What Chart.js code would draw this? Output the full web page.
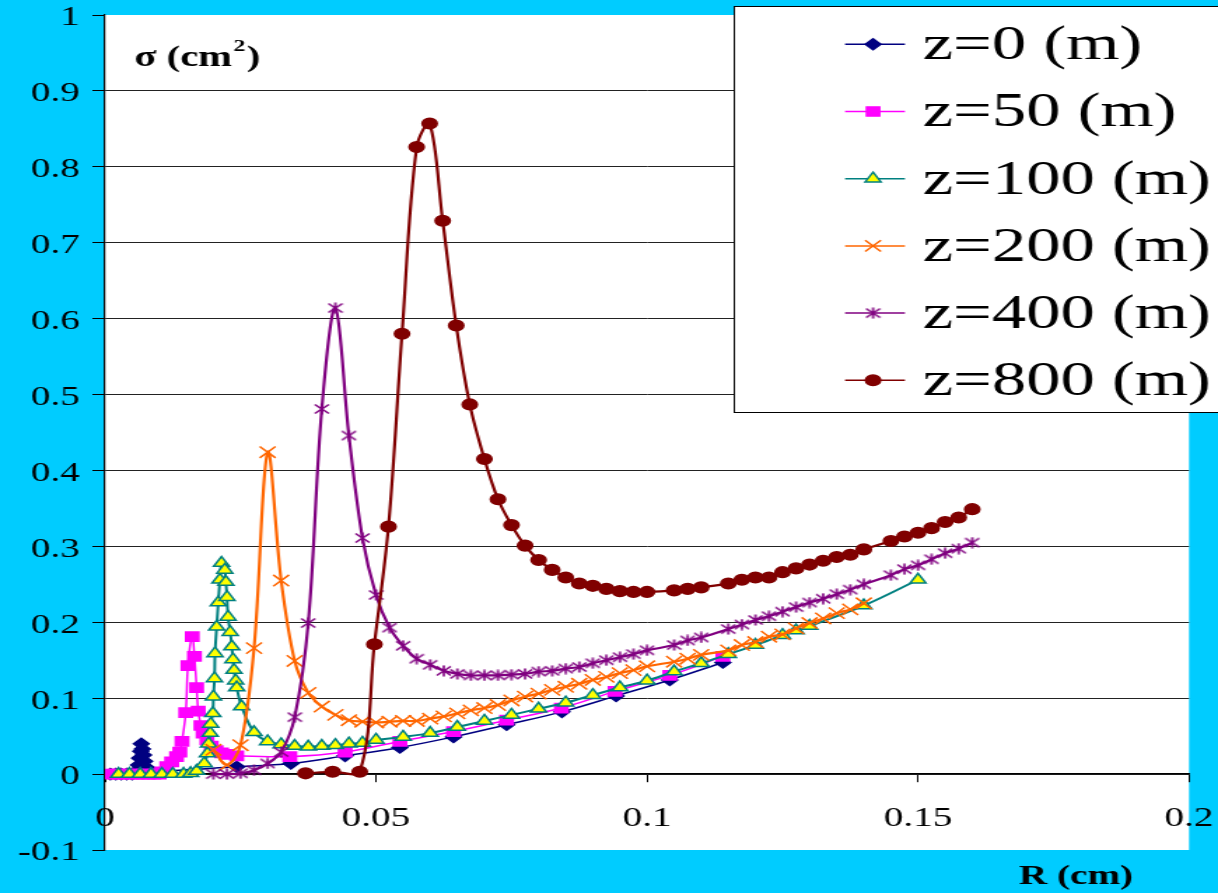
<!DOCTYPE html>
<html>
<head>
<meta charset="utf-8">
<script src="https://cdn.jsdelivr.net/npm/chart.js@4.4.1/dist/chart.umd.min.js"></script>
<style>
  html, body { margin: 0; padding: 0; background: #00CCFF; overflow: hidden; }
</style>
</head>
<body>
<!-- drawn at 870 wide and stretched sideways to 1218, like the reference -->
<canvas id="c" width="870" height="893" style="display:block;width:1218px;height:893px"></canvas>
<script>
// ---- data: R (cm) and sigma (cm^2) per depth ----
const seriesLabels = ['z=0 (m)', 'z=50 (m)', 'z=100 (m)', 'z=200 (m)', 'z=400 (m)', 'z=800 (m)'];

const r0 = [0.001, 0.002, 0.003, 0.004, 0.005, 0.0058, 0.0062, 0.0064, 0.0066, 0.0067,
  0.0069, 0.0071, 0.0073, 0.0076, 0.0082, 0.0243, 0.0343, 0.0443, 0.0544, 0.0643,
  0.0741, 0.0843, 0.0943, 0.1042, 0.114];
const s0 = [0, 0, 0, 0, 0, 0.004, 0.012, 0.021, 0.030, 0.040,
  0.033, 0.025, 0.017, 0.009, 0.004, 0.0096, 0.014, 0.024, 0.035, 0.049,
  0.065, 0.082, 0.103, 0.124, 0.147];

const r50 = [0.001, 0.002, 0.003, 0.004, 0.005, 0.006, 0.007, 0.008, 0.009, 0.01,
  0.0105, 0.0114, 0.0123, 0.0132, 0.0138, 0.0142, 0.0149, 0.0153, 0.0161, 0.0165,
  0.0169, 0.0172, 0.0177, 0.0181, 0.0188, 0.0196, 0.0205, 0.0215, 0.0224, 0.0243,
  0.0341, 0.0443, 0.0544, 0.0643, 0.0741, 0.0842, 0.0941, 0.1042, 0.114];
const s50 = [0, 0, 0, 0, 0, 0, 0, 0, 0, 0,
  0.003, 0.01, 0.016, 0.023, 0.029, 0.043, 0.081, 0.143, 0.181, 0.155,
  0.114, 0.083, 0.064, 0.054, 0.045, 0.037, 0.031, 0.028, 0.026, 0.024,
  0.023, 0.029, 0.043, 0.056, 0.071, 0.087, 0.109, 0.130, 0.155];

const r100 = [0.0025, 0.0045, 0.0065, 0.0085, 0.0105, 0.0125, 0.0145, 0.0158, 0.0169, 0.0183,
  0.0189, 0.0191, 0.0194, 0.0195, 0.0199, 0.02, 0.0202, 0.0203, 0.0206, 0.0209,
  0.0212, 0.0215, 0.0221, 0.0223, 0.0225, 0.0227, 0.0231, 0.0234, 0.0236, 0.0238,
  0.0241, 0.0243, 0.0252, 0.0275, 0.03, 0.0325, 0.035, 0.0375, 0.04, 0.0425,
  0.045, 0.0475, 0.05, 0.055, 0.06, 0.065, 0.07, 0.075, 0.08, 0.085,
  0.09, 0.095, 0.1, 0.105, 0.11, 0.115, 0.12, 0.125, 0.1275, 0.13,
  0.14, 0.15];
const s100 = [0, 0, 0, 0, 0, 0, 0, 0.001, 0.004, 0.014,
  0.027, 0.040, 0.054, 0.066, 0.080, 0.102, 0.126, 0.159, 0.194, 0.226,
  0.256, 0.278, 0.269, 0.253, 0.233, 0.207, 0.187, 0.168, 0.151, 0.137,
  0.123, 0.114, 0.089, 0.055, 0.043, 0.039, 0.037, 0.036, 0.037, 0.038,
  0.040, 0.041, 0.045, 0.049, 0.054, 0.062, 0.070, 0.078, 0.086, 0.094,
  0.104, 0.114, 0.123, 0.135, 0.146, 0.158, 0.170, 0.183, 0.189, 0.195,
  0.222, 0.256];

const r200 = [0.02, 0.0225, 0.025, 0.0275, 0.03, 0.0325, 0.035, 0.0375, 0.04, 0.0425,
  0.045, 0.0475, 0.05, 0.0525, 0.055, 0.0575, 0.06, 0.0625, 0.065, 0.0675,
  0.07, 0.0725, 0.075, 0.0775, 0.08, 0.0825, 0.085, 0.0875, 0.09, 0.0925,
  0.095, 0.0975, 0.1, 0.105, 0.1075, 0.11, 0.115, 0.1175, 0.12, 0.1225,
  0.125, 0.1275, 0.13, 0.1325, 0.135, 0.1375, 0.14];
const s200 = [0.032, 0.012, 0.038, 0.166, 0.424, 0.255, 0.149, 0.107, 0.089, 0.078,
  0.071, 0.069, 0.068, 0.069, 0.070, 0.070, 0.073, 0.076, 0.080, 0.084,
  0.087, 0.091, 0.097, 0.102, 0.106, 0.111, 0.115, 0.119, 0.124, 0.128,
  0.133, 0.137, 0.142, 0.148, 0.152, 0.157, 0.163, 0.170, 0.174, 0.181,
  0.184, 0.192, 0.199, 0.205, 0.212, 0.217, 0.225];

const r400 = [0.02, 0.0225, 0.025, 0.0275, 0.03, 0.0325, 0.035, 0.0375, 0.04, 0.0425,
  0.045, 0.0475, 0.05, 0.0525, 0.055, 0.0575, 0.06, 0.0625, 0.065, 0.0675,
  0.07, 0.0725, 0.075, 0.0775, 0.08, 0.0825, 0.085, 0.0875, 0.09, 0.0925,
  0.095, 0.0975, 0.1, 0.105, 0.1075, 0.11, 0.115, 0.1175, 0.12, 0.1225,
  0.125, 0.1275, 0.13, 0.1325, 0.135, 0.1375, 0.14, 0.145, 0.1475, 0.15,
  0.1525, 0.155, 0.1575, 0.16];
const s400 = [0, 0, 0.001, 0.005, 0.014, 0.029, 0.075, 0.199, 0.481, 0.614,
  0.446, 0.311, 0.236, 0.193, 0.169, 0.152, 0.144, 0.136, 0.132, 0.130,
  0.130, 0.130, 0.131, 0.132, 0.135, 0.136, 0.139, 0.141, 0.146, 0.150,
  0.154, 0.158, 0.163, 0.170, 0.176, 0.180, 0.191, 0.197, 0.203, 0.208,
  0.214, 0.220, 0.226, 0.231, 0.237, 0.243, 0.250, 0.262, 0.270, 0.275,
  0.283, 0.291, 0.297, 0.305];

const r800 = [0.037, 0.042, 0.047, 0.0497, 0.0523, 0.0548, 0.0575, 0.0599, 0.0623, 0.0648,
  0.0673, 0.07, 0.0725, 0.075, 0.0775, 0.08, 0.0825, 0.085, 0.0875, 0.09,
  0.0925, 0.095, 0.0975, 0.1, 0.105, 0.1075, 0.11, 0.115, 0.1175, 0.12,
  0.1225, 0.125, 0.1275, 0.13, 0.1325, 0.135, 0.1375, 0.14, 0.145, 0.1475,
  0.15, 0.1525, 0.155, 0.1575, 0.16];
const s800 = [0.001, 0.003, 0.003, 0.171, 0.326, 0.58, 0.826, 0.857, 0.729, 0.591,
  0.487, 0.415, 0.362, 0.328, 0.301, 0.282, 0.269, 0.259, 0.251, 0.248,
  0.244, 0.241, 0.240, 0.240, 0.242, 0.244, 0.246, 0.251, 0.256, 0.259,
  0.259, 0.266, 0.271, 0.276, 0.281, 0.286, 0.289, 0.296, 0.307, 0.313,
  0.318, 0.324, 0.332, 0.338, 0.349];

const xTicks = [0, 0.05, 0.1, 0.15, 0.2];
const yTicks = [-0.1, 0, 0.1, 0.2, 0.3, 0.4, 0.5, 0.6, 0.7, 0.8, 0.9, 1];

// ---- look ----
const SERIF = '"Liberation Serif", "Times New Roman", serif';
Chart.defaults.font.family = SERIF;
Chart.defaults.color = '#000';

function pts(xs, ys) {
  return xs.map((x, i) => ({ x: x, y: ys[i] }));
}

// excel-like asterisk: X with a vertical bar
function starMarker(color) {
  const c = document.createElement('canvas');
  c.width = 12; c.height = 12;
  const g = c.getContext('2d');
  g.strokeStyle = color;
  g.lineWidth = 1.6;
  g.beginPath();
  g.moveTo(6, 0.5); g.lineTo(6, 11.5);
  g.moveTo(1, 1.5); g.lineTo(11, 10.5);
  g.moveTo(11, 1.5); g.lineTo(1, 10.5);
  g.stroke();
  return c;
}

function series(label, data, color, style, radius, fill, lw, order) {
  return {
    label: label,
    data: data,
    showLine: true,
    borderColor: color,
    borderWidth: lw,
    tension: 0.35,
    pointStyle: style,
    pointRadius: radius,
    pointBackgroundColor: fill,
    pointBorderColor: color,
    pointBorderWidth: 1.5,
    order: order
  };
}

const datasets = [
  series(seriesLabels[0], pts(r0, s0), '#000080', 'rectRot', 5.5, '#000080', 1.5, 6),
  series(seriesLabels[1], pts(r50, s50), '#FF00FF', 'rect', 6.5, '#FF00FF', 1.5, 5),
  series(seriesLabels[2], pts(r100, s100), '#008080', 'triangle', 6.5, '#FFFF00', 2, 4),
  series(seriesLabels[3], pts(r200, s200), '#FF6600', 'crossRot', 8, '#FF6600', 2.2, 3),
  series(seriesLabels[4], pts(r400, s400), '#800080', starMarker('#800080'), 6, '#800080', 2.2, 2),
  series(seriesLabels[5], pts(r800, s800), '#800000', 'circle', 5.3, '#800000', 2.2, 1)
];

// background, free text and the boxed legend
const decor = {
  id: 'decor',
  beforeDraw(chart) {
    const { ctx, chartArea: a } = chart;
    ctx.save();
    ctx.fillStyle = '#00CCFF';
    ctx.fillRect(0, 0, chart.width, chart.height);
    ctx.fillStyle = '#FFFFFF';
    ctx.fillRect(a.left, a.top, a.right - a.left, a.bottom - a.top);
    ctx.restore();
  },
  afterDraw(chart) {
    const ctx = chart.ctx;
    ctx.save();
    ctx.fillStyle = '#000';
    ctx.textAlign = 'left';
    ctx.textBaseline = 'alphabetic';

    // sigma (cm2) inside the plot
    let x = 96, y = 66;
    ctx.font = 'bold 29px ' + SERIF;
    ctx.fillText('σ (cm', x, y);
    x += ctx.measureText('σ (cm').width;
    ctx.font = 'bold 17px ' + SERIF;
    ctx.fillText('2', x + 1, y - 15);
    x += ctx.measureText('2').width + 2;
    ctx.font = 'bold 29px ' + SERIF;
    ctx.fillText(')', x, y);

    // R (cm) under the plot, right side
    ctx.font = 'bold 28px ' + SERIF;
    ctx.textAlign = 'center';
    ctx.fillText('R (cm)', 768.6, 884);

    // legend box
    const boxL = 524.5, boxT = 6.5, boxB = 412.5;
    ctx.fillStyle = '#FFFFFF';
    ctx.fillRect(boxL, boxT, chart.width - boxL + 10, boxB - boxT);
    ctx.strokeStyle = '#000';
    ctx.lineWidth = 1;
    ctx.strokeRect(boxL, boxT, chart.width - boxL + 10, boxB - boxT);

    const rowTop = 44.3, rowGap = 67.2;
    chart.data.datasets.forEach((ds, i) => {
      const ry = rowTop + i * rowGap;
      ctx.strokeStyle = ds.borderColor;
      ctx.lineWidth = 1.5;
      ctx.beginPath();
      ctx.moveTo(603.6, ry);
      ctx.lineTo(646.4, ry);
      ctx.stroke();
      if (Chart.helpers && Chart.helpers.drawPoint) {
        ctx.fillStyle = ds.pointBackgroundColor;
        ctx.strokeStyle = ds.pointBorderColor;
        ctx.lineWidth = ds.pointBorderWidth;
        Chart.helpers.drawPoint(ctx, {
          pointStyle: ds.pointStyle, rotation: 0,
          radius: ds.pointRadius, borderWidth: ds.pointBorderWidth
        }, 623.6, ry);
      }
      ctx.fillStyle = '#000';
      ctx.font = '49px ' + SERIF;
      ctx.textAlign = 'left';
      ctx.textBaseline = 'middle';
      ctx.fillText(ds.label, 659, ry + 2);
    });
    ctx.restore();
  }
};

new Chart(document.getElementById('c'), {
  type: 'scatter',
  data: { datasets: datasets },
  plugins: [decor],
  options: {
    responsive: false,
    devicePixelRatio: 1,
    animation: false,
    events: [],
    layout: { padding: { left: 0, top: 15, right: 20.7, bottom: 43 } },
    plugins: {
      legend: { display: false },
      tooltip: { enabled: false }
    },
    scales: {
      x: {
        type: 'linear',
        min: 0,
        max: 0.2,
        position: { y: 0 },
        afterBuildTicks: (axis) => { axis.ticks = xTicks.map(v => ({ value: v })); },
        afterFit: (axis) => { axis.paddingLeft = 0; axis.paddingRight = 0; },
        ticks: {
          autoSkip: false, maxRotation: 0, padding: 20,
          font: { size: 28 }, color: '#000',
          callback: (v) => String(v)
        },
        grid: { drawOnChartArea: false, drawTicks: true, tickLength: 8, tickColor: '#000', lineWidth: 1 },
        border: { display: true, color: '#000', width: 1.2 }
      },
      y: {
        type: 'linear',
        min: -0.1,
        max: 1,
        afterBuildTicks: (axis) => { axis.ticks = yTicks.map(v => ({ value: v })); },
        afterFit: (axis) => { axis.width = 75; axis.paddingTop = 0; axis.paddingBottom = 0; },
        ticks: {
          autoSkip: false, padding: 9, labelOffset: 3,
          font: { size: 28 }, color: '#000',
          callback: (v) => String(v)
        },
        grid: {
          color: (c) => (c.tick && (c.tick.value === 1 || c.tick.value === -0.1)) ? 'rgba(0,0,0,0)' : '#222',
          lineWidth: 1,
          drawTicks: true,
          tickLength: 9,
          tickColor: '#000'
        },
        border: { display: true, color: '#000', width: 1.2 }
      }
    }
  }
});
</script>
</body>
</html>
